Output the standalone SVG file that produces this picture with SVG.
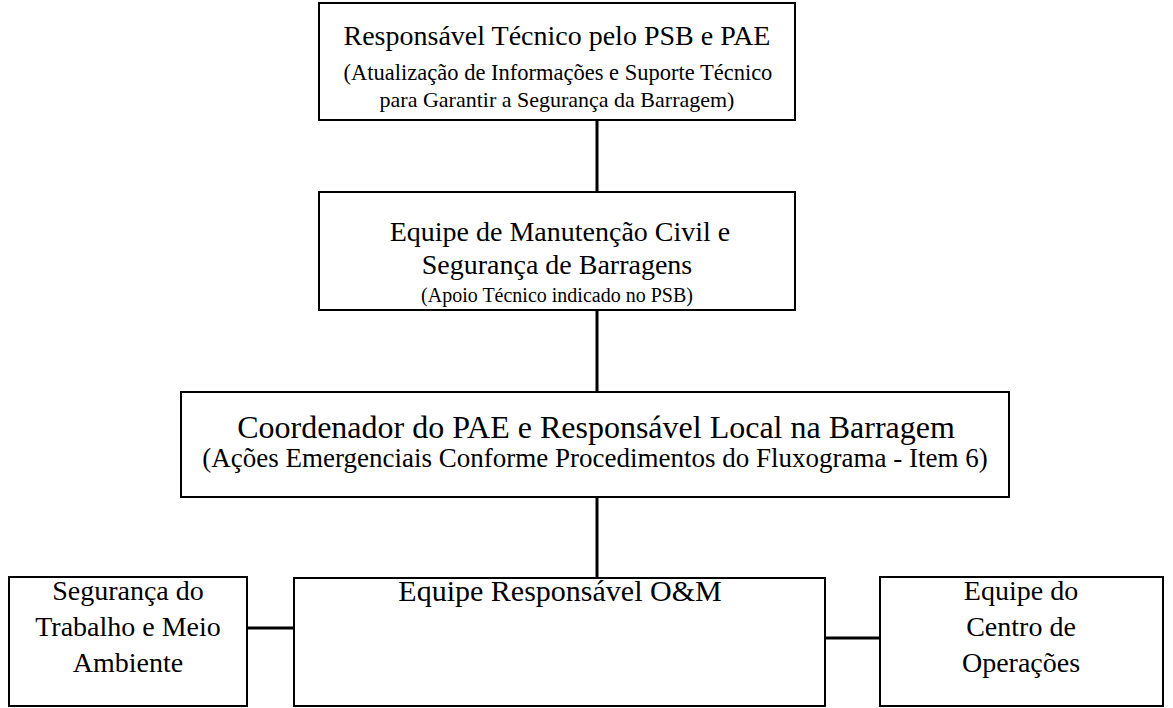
<svg xmlns="http://www.w3.org/2000/svg" width="1173" height="708" viewBox="0 0 1173 708">
<style>
.box{fill:#fff;stroke:#000;stroke-width:2}
.conn{stroke:#000;stroke-width:3;fill:none}
.t{text-anchor:middle;fill:#000}
</style>
<rect width="1173" height="708" fill="#fff"/>
<g id="connectors">
<line class="conn" x1="597" y1="120" x2="597" y2="192"/>
<line class="conn" x1="597" y1="310" x2="597" y2="392"/>
<line class="conn" x1="597" y1="497" x2="597" y2="577"/>
<line class="conn" x1="247" y1="628" x2="294" y2="628"/>
<line class="conn" x1="825" y1="638" x2="880" y2="638"/>
</g>
<g id="n1">
<rect class="box" x="319" y="3" width="476" height="117"/>
<text class="t" style="font-family:'Liberation Serif',serif;font-size:28px" x="557" y="45">Responsável Técnico pelo PSB e PAE</text>
<text class="t" style="font-family:'Liberation Serif',serif;font-size:22.5px" x="558" y="80">(Atualização de Informações e Suporte Técnico</text>
<text class="t" style="font-family:'Liberation Serif',serif;font-size:22px" x="557" y="107">para Garantir a Segurança da Barragem)</text>
</g>
<g id="n2">
<rect class="box" x="319" y="192" width="476" height="118"/>
<text class="t" style="font-family:'Liberation Serif',serif;font-size:28px" x="560" y="241">Equipe de Manutenção Civil e</text>
<text class="t" style="font-family:'Liberation Serif',serif;font-size:28px" x="557" y="274">Segurança de Barragens</text>
<text class="t" style="font-family:'Liberation Serif',serif;font-size:20px" x="557" y="302">(Apoio Técnico indicado no PSB)</text>
</g>
<g id="n3">
<rect class="box" x="181" y="392" width="828" height="105"/>
<text class="t" style="font-family:'Liberation Serif',serif;font-size:32px" x="596" y="438">Coordenador do PAE e Responsável Local na Barragem</text>
<text class="t" style="font-family:'Liberation Serif',serif;font-size:27px" x="595" y="467">(Ações Emergenciais Conforme Procedimentos do Fluxograma - Item 6)</text>
</g>
<g id="n4">
<rect class="box" x="9" y="577" width="238" height="129"/>
<text class="t" style="font-family:'Liberation Serif',serif;font-size:28px" x="128" y="600">Segurança do</text>
<text class="t" style="font-family:'Liberation Serif',serif;font-size:28px" x="128" y="636">Trabalho e Meio</text>
<text class="t" style="font-family:'Liberation Serif',serif;font-size:28px" x="128" y="672">Ambiente</text>
</g>
<g id="n5">
<rect class="box" x="294" y="578" width="531" height="128"/>
<text class="t" style="font-family:'Liberation Serif',serif;font-size:30px" x="560" y="601">Equipe Responsável O&amp;M</text>
</g>
<g id="n6">
<rect class="box" x="880" y="577" width="283" height="129"/>
<text class="t" style="font-family:'Liberation Serif',serif;font-size:28px" x="1021" y="600">Equipe do</text>
<text class="t" style="font-family:'Liberation Serif',serif;font-size:28px" x="1021" y="636">Centro de</text>
<text class="t" style="font-family:'Liberation Serif',serif;font-size:28px" x="1021" y="672">Operações</text>
</g>
</svg>
